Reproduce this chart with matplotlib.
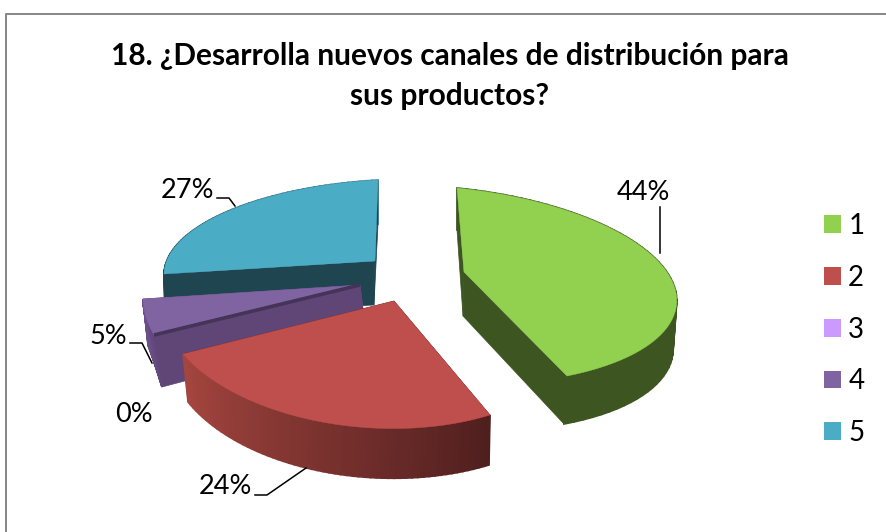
# Exploded 3D pie, drawn by hand because matplotlib has no perspective pie
import numpy as np
import matplotlib
matplotlib.use('Agg')
import matplotlib.pyplot as plt
from matplotlib.patches import Patch

categories = ['1', '2', '3', '4', '5']
percent = [44, 24, 0, 5, 27]
title = '18. ¿Desarrolla nuevos canales de distribución para\nsus productos?'

top_colors = ['#92D050', '#BE4F4C', '#CC99FF', '#8064A2', '#4BACC6']
wall_colors = ['#3D5520', '#4F1F1E', '#453358', '#5F4677', '#1F4550']
rim_colors = ['#3D5520', '#A5453F', '#453358', '#6B4F8A', '#3F8599']

# Where each slice lands in pixels: apex, first edge end, last edge end, middle of arc.
# One set for the top face and one for the bottom face (perspective differs per slice)
top_anchor = {
    0: [(464, 272), (457, 188), (567, 376), (664, 268)],
    1: [(394, 301), (490, 415), (183, 354), (322, 422)],
    3: [(360, 285), (154, 335), (143, 299), (146, 317)],
    4: [(375, 261), (164, 274), (378, 180), (226, 212)],
}
bottom_anchor = {
    0: [(463, 316), (457, 230), (564, 424), (661, 316)],
    1: [(395, 345), (489, 465), (188, 402), (320, 471)],
    3: [(366, 333), (162, 387), (148, 345), (155, 365)],
    4: [(374, 305), (165, 314), (378, 224), (226, 254)],
}
label_pos = {0: (643, 192), 1: (225, 487), 2: (134, 414), 3: (108, 336), 4: (188, 190)}
leaders = {
    0: [(660, 207), (660, 253)],
    1: [(255, 495), (267, 495), (306, 468)],
    3: [(130, 343), (142, 343), (152, 363)],
    4: [(217, 198), (229, 198), (235, 206)],
}


def homography(src, dst):
    rows = []
    rhs = []
    for (x, y), (u, v) in zip(src, dst):
        rows.append([x, y, 1, 0, 0, 0, -u * x, -u * y])
        rows.append([0, 0, 0, x, y, 1, -v * x, -v * y])
        rhs += [u, v]
    h = np.linalg.solve(np.array(rows, float), np.array(rhs, float))
    return np.append(h, 1).reshape(3, 3)


def project(h, xy):
    p = np.column_stack([xy, np.ones(len(xy))]) @ h.T
    return p[:, :2] / p[:, 2:]


def unit(angles):
    return np.column_stack([np.cos(angles), np.sin(angles)])


# slice angles come from the values, clockwise from twelve o'clock
angle_edges = np.radians(90 - 3.6 * np.cumsum([0] + percent))

fig = plt.figure(figsize=(8.87, 5.32), dpi=100)
ax = fig.add_axes([0, 0, 1, 1])
ax.set_xlim(0, 887)
ax.set_ylim(532, 0)
ax.axis('off')

plt.rcParams['font.family'] = 'Lato'

# chart frame
ax.plot([6.5, 6.5, 887], [532, 13.5, 13.5], color='#868686', lw=1.4, zorder=1)

z = 2
for i in [4, 3, 1, 0]:
    t0, t1 = angle_edges[i], angle_edges[i + 1]
    tm = (t0 + t1) / 2
    src = np.vstack([[0, 0], unit(np.array([t0, t1, tm]))])
    h_top = homography(src, top_anchor[i])
    h_bot = homography(src, bottom_anchor[i])

    arc = unit(np.linspace(t0, t1, 60))
    top_arc = project(h_top, arc)
    bot_arc = project(h_bot, arc)
    apex_top = np.array(top_anchor[i][0], float)
    apex_bot = np.array(bottom_anchor[i][0], float)

    # the two cut faces; the teal slice has its rim behind them, the others in front
    wall_z = z + 0.2 if i == 4 else z - 0.2
    for k in [0, -1]:
        face = np.array([apex_top, top_arc[k], bot_arc[k], apex_bot])
        ax.fill(face[:, 0], face[:, 1], color=wall_colors[i], lw=0.5, zorder=wall_z)

    # outer rim in short pieces, red one is shaded from dark to light
    c_start = np.array(matplotlib.colors.to_rgb(wall_colors[i]))
    c_end = np.array(matplotlib.colors.to_rgb(rim_colors[i]))
    for s in range(len(arc) - 1):
        quad = np.array([top_arc[s], top_arc[s + 1], bot_arc[s + 1], bot_arc[s]])
        col = c_start + (c_end - c_start) * s / (len(arc) - 2)
        ax.fill(quad[:, 0], quad[:, 1], color=col, lw=1.2, zorder=z)

    top_face = np.vstack([apex_top, top_arc])
    ax.fill(top_face[:, 0], top_face[:, 1], color=top_colors[i], lw=0.3, zorder=z + 0.5)

    # the 0% slice only shows up as a dark stripe along the purple one
    if i == 3:
        edge = np.array([apex_top, top_arc[0]])
        ax.plot(edge[:, 0], edge[:, 1], color=wall_colors[2], lw=2.6,
                solid_capstyle='butt', zorder=z + 0.6)
    z += 1

for i, pts in leaders.items():
    pts = np.array(pts)
    ax.plot(pts[:, 0], pts[:, 1], color='black', lw=1.1, zorder=10)

for i, (x, y) in label_pos.items():
    ax.text(x, y, f'{percent[i]}%', fontsize=19.5, family='Lato', color='black',
            ha='center', va='center', zorder=11)

ax.text(450, 76, title, fontsize=21.5, family='Lato', fontweight='bold', color='black',
        ha='center', va='center', linespacing=1.5)

handles = [Patch(facecolor=c, edgecolor='none') for c in top_colors]
ax.legend(handles, categories, loc='center left', bbox_to_anchor=(816, 329.5),
          bbox_transform=ax.transData, frameon=False, prop={'family': 'Lato', 'size': 20},
          handlelength=0.61, handleheight=0.61, handletextpad=0.25, labelspacing=0.93,
          borderpad=0, borderaxespad=0.3)

fig.savefig('out.png', dpi=100)
